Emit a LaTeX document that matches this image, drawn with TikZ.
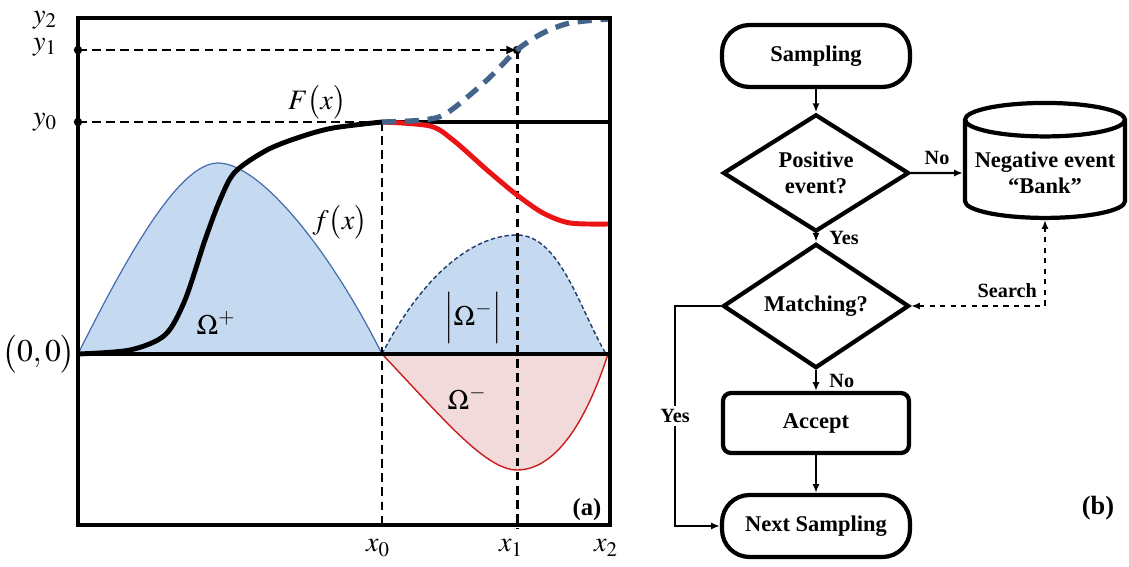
\documentclass[tikz,border=0pt]{standalone}
\usepackage{mathptmx}
\usepackage[no-math]{fontspec}
\setmainfont{Liberation Serif}
\usetikzlibrary{arrows.meta,shapes.geometric}
\definecolor{humpblue}{RGB}{197,217,240}
\definecolor{humpred}{RGB}{242,218,218}
\definecolor{edgeblue}{RGB}{70,110,175}
\definecolor{darkblue}{RGB}{31,60,110}
\definecolor{steelblue}{RGB}{68,100,140}
\definecolor{curvered}{RGB}{235,20,20}
\definecolor{edgered}{RGB}{200,30,30}

\begin{document}
\begin{tikzpicture}[x=0.02cm,y=-0.02cm,
  frame/.style={line width=2.4pt},
  guide/.style={line width=1.7pt,dash pattern=on 5pt off 3pt},
  mlab/.style={font=\fontsize{16}{18}\selectfont},
  term/.style={draw,line width=2.4pt,rounded corners=0.55cm,
               minimum width=3.76cm,minimum height=1.24cm,
               font=\fontsize{12.8}{15}\selectfont\bfseries},
  proc/.style={draw,line width=2.4pt,rounded corners=0.16cm,
               minimum width=3.72cm,minimum height=1.2cm,
               font=\fontsize{12.8}{15}\selectfont\bfseries},
  decision/.style={draw,diamond,line width=2.4pt,inner sep=0pt,
               minimum width=3.72cm,minimum height=1.82cm,align=center,
               font=\fontsize{12.8}{15}\selectfont\bfseries},
  bank/.style={draw,cylinder,shape border rotate=90,aspect=0.22,
               line width=2.4pt,minimum width=3.2cm,minimum height=2.3cm,
               align=center,font=\fontsize{12.8}{15}\selectfont\bfseries},
  lab/.style={font=\fontsize{11.5}{13}\selectfont\bfseries,inner sep=2pt},
  arr/.style={-{Latex[length=5pt,width=4pt]},line width=1.3pt}
]
  \useasboundingbox (0,0) rectangle (1129,567);

  % (a) areas under f(x)
  \fill[humpblue] (78,354) .. controls (130,250) and (180,163) .. (218,163)
        .. controls (260,163) and (330,250) .. (382,354) -- cycle;
  \draw[edgeblue,line width=0.7pt] (78,354) .. controls (130,250) and (180,163) .. (218,163)
        .. controls (260,163) and (330,250) .. (382,354);
  \fill[humpblue] (382,354) .. controls (420,280) and (470,235) .. (517,235)
        .. controls (560,235) and (580,310) .. (606,354) -- cycle;
  \draw[darkblue,line width=0.8pt,dash pattern=on 2.5pt off 1.5pt] (382,354) .. controls (420,280) and (470,235) .. (517,235)
        .. controls (560,235) and (580,310) .. (606,354);
  \fill[humpred] (382,354) .. controls (440,415) and (485,470) .. (517,470)
        .. controls (560,470) and (590,410) .. (608,354) -- cycle;
  \draw[edgered,line width=0.8pt] (382,354) .. controls (440,415) and (485,470) .. (517,470)
        .. controls (560,470) and (590,410) .. (608,354);

  % guides
  \draw[guide] (78,122) -- (382,122);
  \draw[guide,-{Latex[length=6pt,width=5pt]}] (78,50) -- (517,50);
  \draw[guide] (382,122) -- (382,529);
  \draw[guide] (517,50) -- (517,529);
  \fill (78,50) circle (2.4pt);
  \fill (78,122) circle (2.4pt);
  \fill (517,50) circle (2.4pt);

  % axes and curves
  \draw[frame] (78,354) -- (610,354);
  \draw[frame] (382,122) -- (610,122);
  \draw[line width=2.8pt,curvered] plot[smooth] coordinates
        {(382,122) (430,126) (453,140) (487,170) (517,195) (543,213) (570,223) (610,224)};
  \draw[line width=3pt,steelblue,dash pattern=on 8pt off 5pt] plot[smooth] coordinates
        {(382,122) (423,120) (447,113) (487,80) (517,50) (543,33) (570,23) (609,19)};
  \draw[line width=2.8pt] plot[smooth] coordinates
        {(78,354) (130,350) (165,335) (185,300) (205,240) (220,200) (235,172) (267,150) (300,137) (333,128) (382,122)};
  \draw[frame] (78,18) rectangle (610,525);

  % (a) labels
  \node[mlab] (ly2) at (45,20) {$y_2$};
  \node[mlab] (ly1) at (45,47) {$y_1$};
  \node[mlab] (ly0) at (45,122) {$y_0$};
  \node[mlab,font=\fontsize{18}{20}\selectfont] (lorig) at (39,354) {$\bigl(0,0\bigr)$};
  \node[mlab] (lx0) at (378,548) {$x_0$};
  \node[mlab] (lx1) at (511,548) {$x_1$};
  \node[mlab] (lx2) at (606,548) {$x_2$};
  \node[mlab] (lF) at (317,102) {$F\bigl(x\bigr)$};
  \node[mlab] (lf) at (340,222) {$f\bigl(x\bigr)$};
  \node[mlab] (lop) at (216,323) {$\Omega^{+}$};
  \node[mlab] (lonabs) at (473,318) {$\Bigl|\Omega^{-}\Bigr|$};
  \node[mlab] (lon) at (467,398) {$\Omega^{-}$};
  \node[font=\fontsize{14}{16}\selectfont\bfseries] (pa) at (587,510) {(a)};

  % (b) flowchart
  \node[term] (samp) at (816,56) {Sampling};
  \node[decision] (pos) at (816,173) {Positive\\event?};
  \node[bank] (neg) at (1045,173) {Negative event\\“Bank”};
  \node[decision] (match) at (816,306) {Matching?};
  \node[proc] (acc) at (816,423) {Accept};
  \node[term] (next) at (816,526) {Next Sampling};
  \coordinate (loop) at (675,306);
  \node[font=\fontsize{15}{17}\selectfont\bfseries] (pb) at (1098,508) {(b)};

  \draw[arr] (samp) -- (pos);
  \draw[arr] (pos) -- node[lab,above=2pt] {No} (neg);
  \draw[arr] (pos) -- node[lab,right=5pt] {Yes} (match);
  \draw[arr,dashed,{Latex[length=5pt,width=4pt]}-{Latex[length=5pt,width=4pt]}]
        (match.east) -| node[lab,above left=2pt,pos=0.5] {Search} (neg.south);
  \draw[arr] (match) -- node[lab,right=5pt] {No} (acc);
  \draw[arr] (acc) -- (next);
  \draw[arr] (match.west) -- (loop) |- node[lab,fill=white,pos=0.25] {Yes} (next.west);
\end{tikzpicture}
\end{document}
